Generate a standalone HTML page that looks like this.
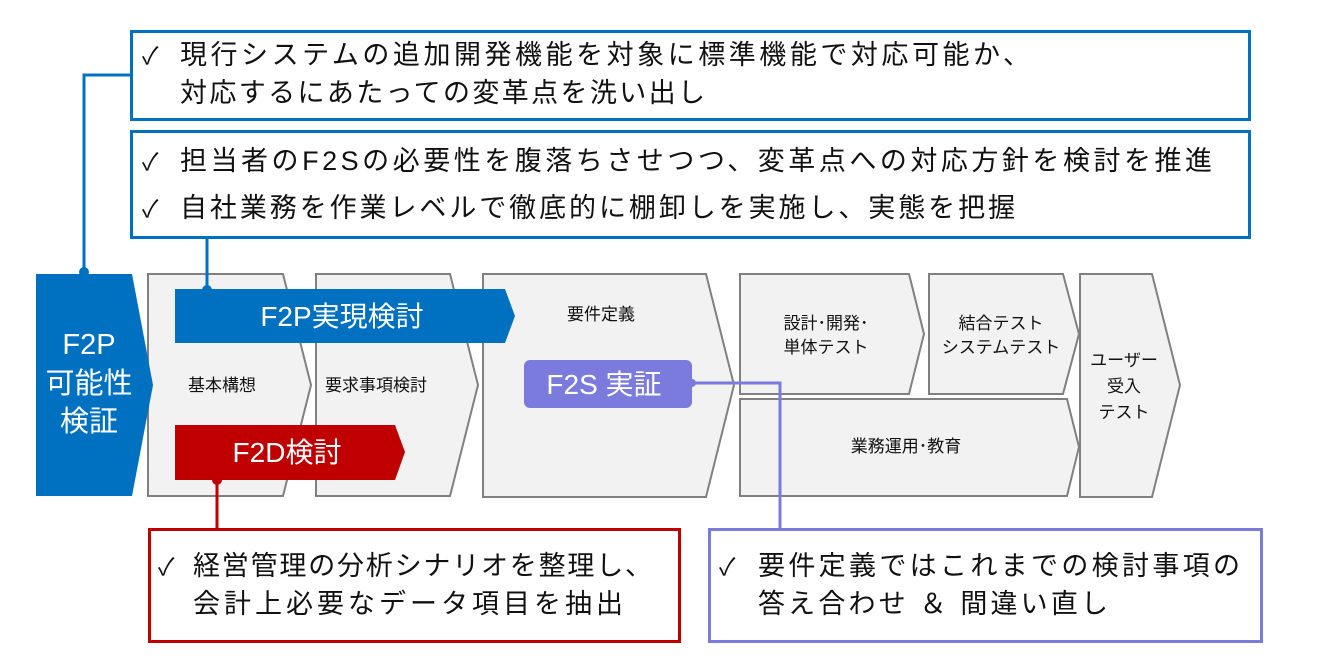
<!DOCTYPE html>
<html><head><meta charset="utf-8"><style>
html,body{margin:0;padding:0;background:#fff;}
svg{display:block;}
text{font-family:"Liberation Sans","Noto Sans CJK JP",sans-serif;}
</style></head><body>
<svg width="1320" height="670" viewBox="0 0 1320 670" xmlns="http://www.w3.org/2000/svg">
<polyline points="84,272 84,75 130,75" fill="none" stroke="#0070C0" stroke-width="3"/>
<circle cx="84" cy="272" r="5" fill="#0070C0"/>

<!-- top boxes -->
<rect x="131.5" y="31.5" width="1118" height="88" fill="#fff" stroke="#0070C0" stroke-width="3"/>
<rect x="131.5" y="131.5" width="1118" height="106" fill="#fff" stroke="#0070C0" stroke-width="3"/>
<g font-size="27" fill="#111">
<text x="142" y="64" font-size="24" font-family="DejaVu Sans">✓</text>
<text x="180" y="64" textLength="850" lengthAdjust="spacing">現行システムの追加開発機能を対象に標準機能で対応可能か、</text>
<text x="180" y="102" textLength="525" lengthAdjust="spacing">対応するにあたっての変革点を洗い出し</text>
<text x="142" y="170" font-size="24" font-family="DejaVu Sans">✓</text>
<text x="180" y="170" textLength="1032" lengthAdjust="spacing">担当者のF2Sの必要性を腹落ちさせつつ、変革点への対応方針を検討を推進</text>
<text x="142" y="217" font-size="24" font-family="DejaVu Sans">✓</text>
<text x="180" y="217" textLength="835" lengthAdjust="spacing">自社業務を作業レベルで徹底的に棚卸しを実施し、実態を把握</text>
</g>

<!-- process chevrons -->
<g fill="#F2F2F2" stroke="#808080" stroke-width="2">
<polygon points="148,274 283,274 311,385 283,496 148,496"/>
<polygon points="316,274 450,274 478,385 450,496 316,496"/>
<polygon points="483,274 706,274 734,385 706,497 483,497"/>
<polygon points="740,274 909,274 924,334 909,394 740,394"/>
<polygon points="929,274 1063,274 1079,334 1063,394 929,394"/>
<polygon points="740,399 1067,399 1079,447 1067,496 740,496"/>
<polygon points="1080,274 1152,274 1180,385 1152,497 1080,497"/>
</g>
<g font-size="17" fill="#111" text-anchor="middle">
<text x="222" y="391">基本構想</text>
<text x="376" y="391">要求事項検討</text>
<text x="601" y="320">要件定義</text>
<text x="826" y="329">設計･開発･</text>
<text x="826" y="353">単体テスト</text>
<text x="1001" y="329">結合テスト</text>
<text x="1001" y="353">システムテスト</text>
<text x="906" y="452">業務運用･教育</text>
<text x="1124" y="366">ユーザー</text>
<text x="1124" y="392">受入</text>
<text x="1124" y="418">テスト</text>
</g>

<!-- connectors on top -->
<line x1="207" y1="238" x2="207" y2="290" stroke="#0070C0" stroke-width="3"/>
<circle cx="207" cy="290" r="5" fill="#0070C0"/>
<line x1="217" y1="480" x2="217" y2="528" stroke="#C00000" stroke-width="3"/>
<circle cx="217" cy="480" r="5" fill="#C00000"/>
<polyline points="692,383 780,383 780,528" fill="none" stroke="#7B7BDE" stroke-width="3"/>

<!-- F2P 可能性検証 -->
<polygon points="36,274 132,274 153,385 132,496 36,496" fill="#0070C0"/>
<g font-size="29" fill="#fff" text-anchor="middle">
<text x="89" y="354">F2P</text>
<text x="89" y="393">可能性</text>
<text x="89" y="431">検証</text>
</g>

<!-- bars -->
<polygon points="175,289 505,289 515,316 505,343 175,343" fill="#0070C0"/>
<text x="342" y="326" font-size="28" fill="#fff" text-anchor="middle">F2P実現検討</text>
<polygon points="175,425 395,425 405,452 395,480 175,480" fill="#C00000"/>
<text x="287" y="462" font-size="28" fill="#fff" text-anchor="middle">F2D検討</text>
<rect x="524" y="360" width="168" height="48" rx="6" fill="#7B7BDE"/>
<circle cx="692" cy="383" r="4" fill="#7B7BDE"/>
<text x="604" y="394" font-size="28" fill="#fff" text-anchor="middle">F2S 実証</text>

<!-- bottom boxes -->
<rect x="149.5" y="529.5" width="530" height="112" fill="#fff" stroke="#C00000" stroke-width="3"/>
<rect x="709.5" y="529.5" width="552" height="112" fill="#fff" stroke="#7B7BDE" stroke-width="3"/>
<g font-size="27" fill="#111">
<text x="158" y="575" font-size="24" font-family="DejaVu Sans">✓</text>
<text x="193" y="575" textLength="459" lengthAdjust="spacing">経営管理の分析シナリオを整理し、</text>
<text x="193" y="613" textLength="430" lengthAdjust="spacing">会計上必要なデータ項目を抽出</text>
<text x="719" y="575" font-size="24" font-family="DejaVu Sans">✓</text>
<text x="758" y="575" textLength="482" lengthAdjust="spacing">要件定義ではこれまでの検討事項の</text>
<text x="758" y="613" textLength="350" lengthAdjust="spacing">答え合わせ ＆ 間違い直し</text>
</g>
</svg>
</body></html>
